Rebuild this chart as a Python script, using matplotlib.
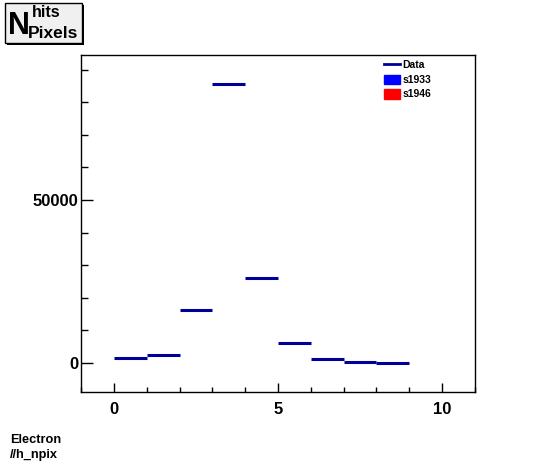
import numpy as np
import matplotlib.pyplot as plt
from matplotlib.lines import Line2D
from matplotlib.patches import Patch, Rectangle
from matplotlib.ticker import MultipleLocator

plt.rcParams['font.family'] = ['Liberation Sans', 'DejaVu Sans']
plt.rcParams['font.weight'] = 'bold'

# contenu des bins
bin_low = np.arange(0, 9)
counts = [1600, 2550, 16250, 85600, 26150, 6250, 1300, 400, 100]
legend_labels = ['Data', 's1933', 's1946']
bottom_lines = ['Electron', '//h_npix']

fig = plt.figure(figsize=(5.46, 4.62), dpi=100)
ax = fig.add_axes([81 / 546, 1 - 392 / 462, 394 / 546, 337 / 462])

centres = bin_low + 0.5
ax.errorbar(centres, counts, xerr=0.5, yerr=np.sqrt(counts), fmt='none',
            ecolor='#000099', elinewidth=2.2, capsize=0)

ax.set_xlim(-1, 11)
ax.set_ylim(-8900, 94500)
ax.xaxis.set_major_locator(MultipleLocator(5))
ax.xaxis.set_minor_locator(MultipleLocator(1))
ax.yaxis.set_major_locator(MultipleLocator(50000))
ax.yaxis.set_minor_locator(MultipleLocator(10000))
ax.tick_params(which='both', direction='in', top=False, right=False,
               labelsize=12, width=1)
ax.tick_params(axis='x', which='major', length=6.5, pad=7)
ax.tick_params(axis='x', which='minor', length=3.5)
ax.tick_params(axis='y', which='major', length=8.5, pad=2)
ax.tick_params(axis='y', which='minor', length=4.8)
for lab in ax.get_xticklabels() + ax.get_yticklabels():
    lab.set_fontweight('bold')
for s in ax.spines.values():
    s.set_linewidth(1)

# legende
handles = [Line2D([], [], color='#000099', lw=2),
           Patch(facecolor='#0000ff', edgecolor='#0000ff'),
           Patch(facecolor='#ff0000', edgecolor='#ff0000')]
ax.legend(handles, legend_labels, loc='upper left',
          bbox_to_anchor=(384 / 546, 1 - 60 / 462), bbox_transform=fig.transFigure,
          frameon=False, prop={'size': 7.5, 'weight': 'bold'},
          handlelength=1.5, handleheight=1.05, handletextpad=0.25,
          labelspacing=0.4, borderpad=0, borderaxespad=0)

# boite du titre
W, H = 546, 462
fig.patches.append(Rectangle((5 / W, 1 - 43 / H), 77 / W, 40 / H,
                             transform=fig.transFigure, facecolor='#f0f0f0',
                             edgecolor='black', lw=1))
fig.patches.append(Rectangle((82 / W, 1 - 45 / H), 2 / W, 40 / H,
                             transform=fig.transFigure, facecolor='black', lw=0))
fig.patches.append(Rectangle((7 / W, 1 - 45 / H), 77 / W, 2 / H,
                             transform=fig.transFigure, facecolor='black', lw=0))
fig.text(8 / W, 1 - 34 / H, 'N', fontsize=22, fontweight='bold', va='baseline')
fig.text(32 / W, 1 - 17 / H, 'hits', fontsize=11.5, fontweight='bold', va='baseline')
fig.text(28 / W, 1 - 38 / H, 'Pixels', fontsize=12.5, fontweight='bold', va='baseline')

# texte en bas
fig.text(10 / W, 1 - 443 / H, bottom_lines[0], fontsize=9.2, fontweight='bold')
fig.text(10 / W, 1 - 458 / H, bottom_lines[1], fontsize=9.2, fontweight='bold')

plt.savefig('out.png', dpi=100)
